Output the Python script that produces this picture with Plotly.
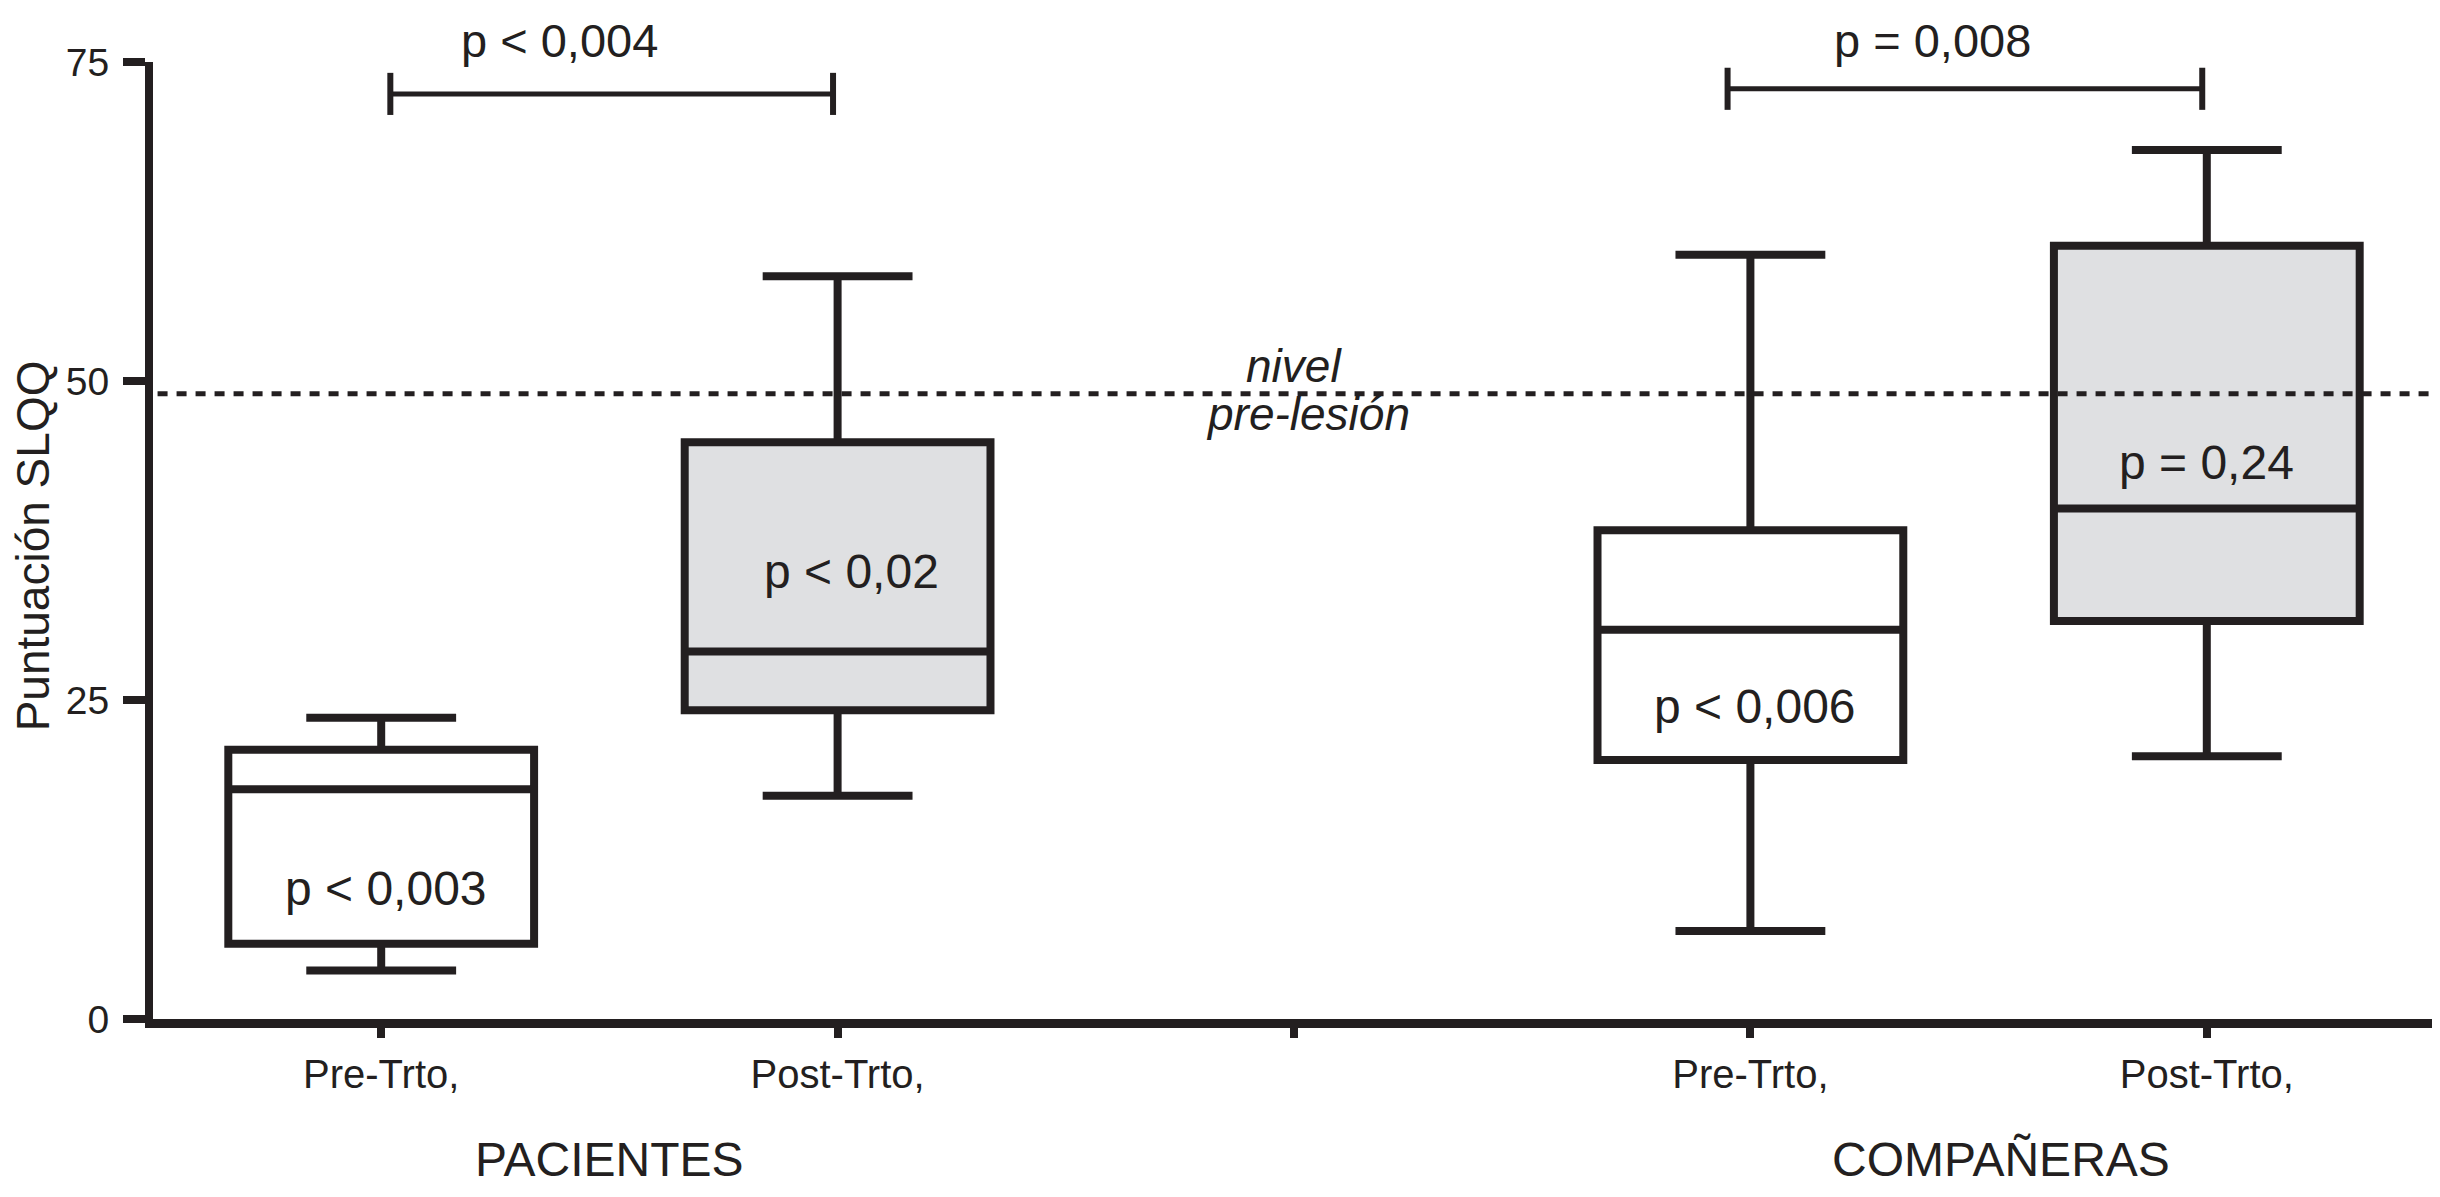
import plotly.graph_objects as go

# ---- data ----
positions = [0, 1, 3, 4]
lower = [3.8, 17.5, 6.9, 20.6]
q1 = [5.9, 24.2, 20.3, 31.2]
median = [18.0, 28.8, 30.5, 40.0]
q3 = [21.1, 45.2, 38.3, 60.6]
upper = [23.6, 58.2, 59.9, 68.1]
fills = ["#ffffff", "#dfe0e2", "#ffffff", "#dfe0e2"]

tick_vals = [0, 1, 2, 3, 4]
tick_text = ["Pre-Trto,", "Post-Trto,", "", "Pre-Trto,", "Post-Trto,"]
y_ticks = [0, 25, 50, 75]

group_labels = ["PACIENTES", "COMPAÑERAS"]
group_x = [0.5, 3.55]
group_y = -11.0

inner_p = ["p < 0,003", "p < 0,02", "p < 0,006", "p = 0,24"]
inner_p_x = [0.01, 1.03, 3.01, 4.0]
inner_p_y = [10.2, 35.1, 24.5, 43.6]

bracket_x0 = [0.02, 2.95]
bracket_x1 = [0.99, 3.99]
bracket_y = [72.5, 72.9]
bracket_p = ["p < 0,004", "p = 0,008"]
bracket_p_x = [0.39, 3.40]
bracket_p_y = [76.7, 76.7]

pre_injury_level = 49

Y_MAX = 75
INK = "#231f20"
FONT = "Liberation Sans, Arial, Helvetica, sans-serif"

fig = go.Figure()
for i in range(len(positions)):
    fig.add_trace(go.Box(
        x=[positions[i]], q1=[q1[i]], median=[median[i]], q3=[q3[i]],
        lowerfence=[lower[i]], upperfence=[upper[i]],
        width=0.67, whiskerwidth=0.49,
        fillcolor=fills[i], line=dict(color=INK, width=8),
        boxpoints=False, showlegend=False, hoverinfo="skip",
    ))

# dashed pre-injury level
fig.add_shape(type="line", xref="paper", yref="y", x0=0.002, x1=1,
              y0=pre_injury_level, y1=pre_injury_level,
              line=dict(color=INK, width=5, dash="10px,9px"), layer="above")

# brackets
for i in range(len(bracket_y)):
    fig.add_shape(type="line", xref="x", yref="y", x0=bracket_x0[i], x1=bracket_x1[i],
                  y0=bracket_y[i], y1=bracket_y[i], line=dict(color=INK, width=5))
    for xe in (bracket_x0[i], bracket_x1[i]):
        fig.add_shape(type="line", xref="x", yref="y", x0=xe, x1=xe,
                      y0=bracket_y[i] - 1.65, y1=bracket_y[i] + 1.65,
                      line=dict(color=INK, width=6))
    fig.add_annotation(x=bracket_p_x[i], y=bracket_p_y[i] / Y_MAX, xref="x", yref="paper",
                       text=bracket_p[i], showarrow=False, yanchor="middle",
                       font=dict(size=47, color=INK, family=FONT))

for i in range(len(inner_p)):
    fig.add_annotation(x=inner_p_x[i], y=inner_p_y[i], xref="x", yref="y",
                       text=inner_p[i], showarrow=False,
                       font=dict(size=48, color=INK, family=FONT))

fig.add_annotation(x=2.0, y=51.2, xref="x", yref="y", text="<i>nivel</i>",
                   showarrow=False, font=dict(size=46, color=INK, family=FONT))
fig.add_annotation(x=2.03, y=47.4, xref="x", yref="y", text="<i>pre-lesión</i>",
                   showarrow=False, font=dict(size=46, color=INK, family=FONT))

for i in range(len(group_labels)):
    fig.add_annotation(x=group_x[i], y=group_y / Y_MAX, xref="x", yref="paper",
                       text=group_labels[i], showarrow=False, yanchor="middle",
                       font=dict(size=48, color=INK, family=FONT))

# y axis title
fig.add_annotation(x=-0.0527, y=37.1, xref="paper", yref="y",
                   text="Puntuación SLQQ", textangle=-90, showarrow=False,
                   xanchor="center", yanchor="middle",
                   font=dict(size=46, color=INK, family=FONT))

fig.update_layout(
    width=2432, height=1181,
    margin=dict(l=145, r=5, t=54, b=170),
    paper_bgcolor="white", plot_bgcolor="white",
    font=dict(family=FONT, color=INK),
    showlegend=False,
)
fig.update_xaxes(
    range=[-0.5, 4.5], tickmode="array", tickvals=tick_vals, ticktext=tick_text,
    showline=True, linecolor=INK, linewidth=9, ticks="outside", ticklen=10,
    tickwidth=8, tickcolor=INK, showgrid=False, zeroline=False,
    tickfont=dict(size=40, color=INK, family=FONT), ticklabelstandoff=2,
)
fig.update_yaxes(
    range=[0, Y_MAX], tickmode="array", tickvals=y_ticks,
    showline=True, linecolor=INK, linewidth=8, ticks="outside", ticklen=22,
    tickwidth=8, tickcolor=INK, showgrid=False, zeroline=False,
    tickfont=dict(size=39, color=INK, family=FONT), ticklabelstandoff=6,
)

fig.write_html("out.html")
